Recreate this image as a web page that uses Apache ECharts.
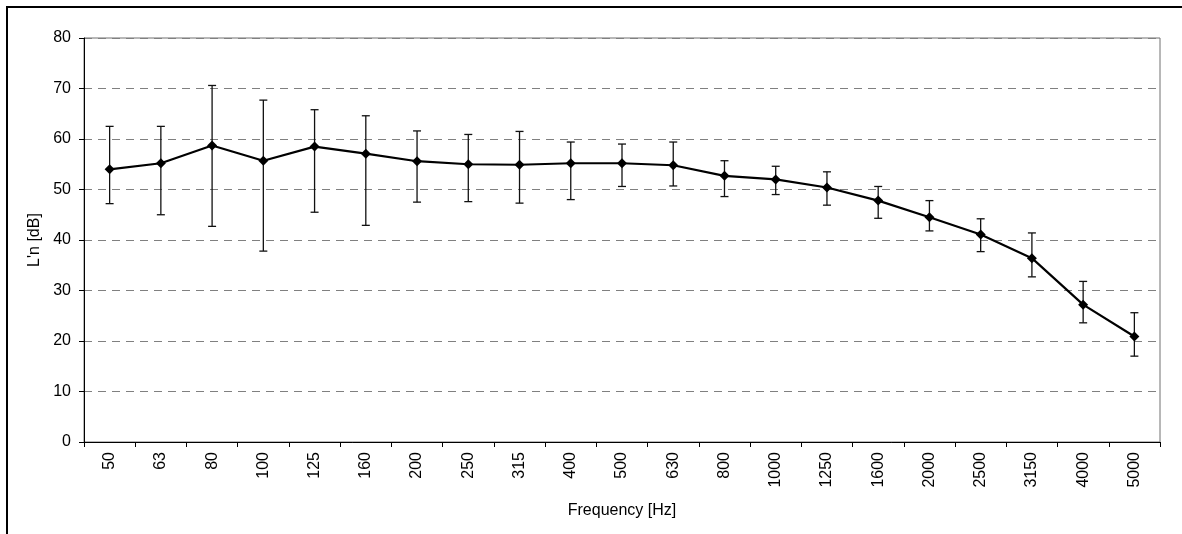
<!DOCTYPE html>
<html>
<head>
<meta charset="utf-8">
<script src="https://cdn.jsdelivr.net/npm/echarts@6/dist/echarts.min.js"></script>
<style>
html,body{margin:0;padding:0;background:#fff;}
#chart{width:1182px;height:534px;}
</style>
</head>
<body>
<div id="chart"></div>
<script>
const categories = ['50','63','80','100','125','160','200','250','315','400','500','630','800','1000','1250','1600','2000','2500','3150','4000','5000'];
const meanValues = [54.0,55.2,58.7,55.7,58.5,57.1,55.6,55.0,54.9,55.2,55.2,54.8,52.7,52.0,50.4,47.8,44.5,41.1,36.4,27.2,20.9];
const upperValues = [62.5,62.5,70.6,67.7,65.8,64.6,61.6,60.9,61.5,59.4,59.0,59.4,55.7,54.6,53.5,50.6,47.8,44.2,41.4,31.8,25.6];
const lowerValues = [47.2,45.0,42.7,37.8,45.5,42.9,47.5,47.6,47.3,48.0,50.6,50.7,48.6,49.0,46.9,44.3,41.8,37.7,32.7,23.6,17.0];
const yTicks = [0,10,20,30,40,50,60,70,80];

const FONT = '"Liberation Sans", Arial, sans-serif';
const chart = echarts.init(document.getElementById('chart'), null, {renderer:'canvas'});

const errData = categories.map((c, i) => [i, lowerValues[i], upperValues[i]]);

chart.setOption({
  animation: false,
  backgroundColor: '#fff',
  textStyle: {fontFamily: FONT},
  graphic: [{
    type: 'rect', silent: true, z: -1,
    shape: {x: 7, y: 7, width: 1300, height: 700},
    style: {fill: 'none', stroke: '#000', lineWidth: 2}
  }],
  grid: {
    left: 84, right: 22, top: 38, bottom: 92,
    show: true, borderColor: '#707070', borderWidth: 1, backgroundColor: 'transparent'
  },
  xAxis: {
    type: 'category',
    data: categories,
    boundaryGap: true,
    name: 'Frequency [Hz]',
    nameLocation: 'middle',
    nameGap: 61,
    nameTextStyle: {color: '#000', fontSize: 16, fontFamily: FONT},
    axisLine: {show: true, lineStyle: {color: '#000', width: 1}},
    axisTick: {show: true, length: 5, alignWithLabel: false, lineStyle: {color: '#000'}},
    axisLabel: {rotate: 90, color: '#000', fontSize: 16, fontFamily: FONT, margin: 10, interval: 0},
    splitLine: {show: false}
  },
  yAxis: {
    type: 'value',
    min: 0, max: 80, interval: 10,
    name: "L'n [dB]",
    nameLocation: 'middle',
    nameGap: 38,
    nameRotate: 90,
    nameTextStyle: {color: '#000', fontSize: 16, fontFamily: FONT},
    axisLine: {show: true, lineStyle: {color: '#000', width: 1}},
    axisTick: {show: true, length: 5, lineStyle: {color: '#000'}},
    axisLabel: {color: '#000', fontSize: 16, fontFamily: FONT, margin: 13,
      formatter: v => yTicks.includes(v) ? String(v) : ''},
    splitLine: {show: true, lineStyle: {color: '#808080', width: 1, type: [8, 6]}}
  },
  series: [
    {
      type: 'custom',
      name: 'range',
      data: errData,
      z: 2,
      renderItem: function (params, api) {
        const x = api.value(0);
        const lo = api.coord([x, api.value(1)]);
        const hi = api.coord([x, api.value(2)]);
        const cap = 4;
        const st = {stroke: '#111', lineWidth: 1.3};
        return {
          type: 'group',
          children: [
            {type: 'line', shape: {x1: lo[0], y1: lo[1], x2: hi[0], y2: hi[1]}, style: st},
            {type: 'line', shape: {x1: hi[0]-cap, y1: hi[1], x2: hi[0]+cap, y2: hi[1]}, style: st},
            {type: 'line', shape: {x1: lo[0]-cap, y1: lo[1], x2: lo[0]+cap, y2: lo[1]}, style: st}
          ]
        };
      }
    },
    {
      type: 'line',
      name: 'mean',
      data: meanValues,
      z: 3,
      symbol: 'diamond',
      symbolSize: 10,
      itemStyle: {color: '#000'},
      lineStyle: {color: '#000', width: 2.2}
    }
  ]
});
</script>
</body>
</html>
